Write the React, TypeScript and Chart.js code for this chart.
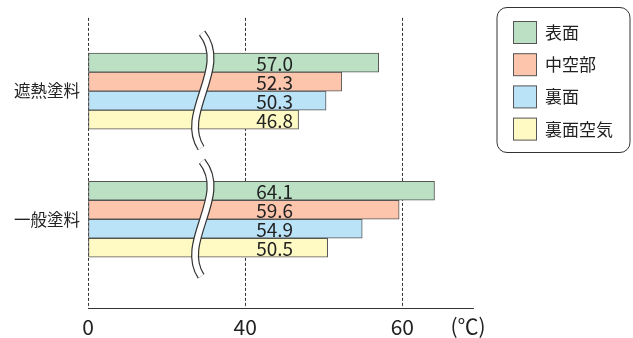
import React, { useEffect, useRef } from 'react';
import { Chart, registerables } from 'chart.js';

Chart.register(...registerables);

// ---- data ----
const categories = ['遮熱塗料', '一般塗料'];
const seriesNames = ['表面', '中空部', '裏面', '裏面空気'];
const surface = [57.0, 64.1];
const hollow = [52.3, 59.6];
const back = [50.3, 54.9];
const backAir = [46.8, 50.5];
const xTickValues = [0, 40, 60];
const xMaxValue = 69;
const unitLabel = '(℃)';

// ---- style ----
const colors = ['#bbe0c4', '#fcc5ac', '#bbe3f8', '#fffac3'];
const FONT = '"Noto Sans CJK JP", "Noto Sans", sans-serif';
const TEXT = '#222';
const LINE = '#333';

// broken axis: 0..40 is drawn at half scale, 40.. at full scale
const toAxis = (v: number) => (v >= 40 ? v - 20 : v / 2);
const fromAxis = (a: number) => (a >= 20 ? a + 20 : a * 2);
const BREAK_AXIS_POS = 14.9;

const seriesValues = [surface, hollow, back, backAir];

const overlayPlugin = {
  id: 'overlay',
  afterDatasetsDraw(chart: any) {
    const ctx = chart.ctx;
    const xs = chart.scales.x;
    const ys = chart.scales.y;
    // break marks
    const bx = xs.getPixelForValue(BREAK_AXIS_POS);
    categories.forEach((_, i) => {
      const cy = ys.getPixelForValue(i);
      const top = cy - 58;
      const bot = cy + 57;
      const path = () => {
        ctx.beginPath();
        ctx.moveTo(bx - 3, top);
        ctx.bezierCurveTo(bx + 25, top + 35, bx - 27, bot - 35, bx - 4, bot);
      };
      ctx.save();
      ctx.lineCap = 'butt';
      path();
      ctx.strokeStyle = LINE;
      ctx.lineWidth = 8;
      ctx.stroke();
      path();
      ctx.strokeStyle = '#ffffff';
      ctx.lineWidth = 5.6;
      ctx.stroke();
      ctx.restore();
    });
    // value labels
    const lx = xs.getPixelForValue(toAxis(40)) + 11;
    ctx.save();
    ctx.font = `19px ${FONT}`;
    ctx.fillStyle = TEXT;
    ctx.textAlign = 'left';
    ctx.textBaseline = 'middle';
    chart.data.datasets.forEach((ds: any, di: number) => {
      const meta = chart.getDatasetMeta(di);
      meta.data.forEach((el: any, i: number) => {
        ctx.fillText(seriesValues[di][i].toFixed(1), lx, el.y + 1);
      });
    });
    ctx.restore();
  },
  afterDraw(chart: any) {
    const ctx = chart.ctx;
    const ca = chart.chartArea;
    // unit
    ctx.save();
    ctx.font = `21px ${FONT}`;
    ctx.fillStyle = TEXT;
    ctx.textAlign = 'center';
    ctx.textBaseline = 'middle';
    ctx.fillText(unitLabel, ca.right - 5, 326);
    ctx.restore();
    // legend
    const lx = 497, ly = 7.5, lw = 133, lh = 145, r = 10;
    ctx.save();
    ctx.beginPath();
    ctx.moveTo(lx + r, ly);
    ctx.lineTo(lx + lw - r, ly);
    ctx.arcTo(lx + lw, ly, lx + lw, ly + r, r);
    ctx.lineTo(lx + lw, ly + lh - r);
    ctx.arcTo(lx + lw, ly + lh, lx + lw - r, ly + lh, r);
    ctx.lineTo(lx + r, ly + lh);
    ctx.arcTo(lx, ly + lh, lx, ly + lh - r, r);
    ctx.lineTo(lx, ly + r);
    ctx.arcTo(lx, ly, lx + r, ly, r);
    ctx.closePath();
    ctx.fillStyle = '#fff';
    ctx.fill();
    ctx.strokeStyle = LINE;
    ctx.lineWidth = 1;
    ctx.stroke();
    ctx.font = `17px ${FONT}`;
    ctx.textAlign = 'left';
    ctx.textBaseline = 'middle';
    chart.data.datasets.forEach((ds: any, i: number) => {
      const sy = 21 + i * 32.2;
      ctx.fillStyle = ds.backgroundColor;
      ctx.fillRect(513.5, sy + 0.5, 23, 22);
      ctx.strokeStyle = '#555';
      ctx.strokeRect(513.5, sy + 0.5, 23, 22);
      ctx.fillStyle = TEXT;
      ctx.fillText(ds.label, 545, sy + 11.5);
    });
    ctx.restore();
  },
};

export default function App() {
  const ref = useRef<HTMLCanvasElement>(null);
  useEffect(() => {
    if (!ref.current) return;
    const chart = new Chart(ref.current, {
      type: 'bar',
      data: {
        datasets: seriesNames.map((name, si) => ({
          label: name,
          data: seriesValues[si].map((v, i) => ({ x: toAxis(v), y: i })),
          backgroundColor: colors[si],
          borderColor: '#555',
          borderWidth: 1,
          borderSkipped: false,
          barThickness: 19,
        })),
      },
      options: {
        indexAxis: 'y',
        responsive: false,
        animation: false,
        devicePixelRatio: 1,
        layout: { padding: { top: 7, right: 160, left: 0, bottom: 0 } },
        plugins: { legend: { display: false }, tooltip: { enabled: false } },
        scales: {
          x: {
            type: 'linear',
            min: 0,
            max: toAxis(xMaxValue),
            offset: false,
            afterBuildTicks: (s: any) => {
              s.ticks = xTickValues.map((v) => ({ value: toAxis(v) }));
            },
            afterFit: (s: any) => {
              s.height = 30;
            },
            grid: {
              color: LINE,
              lineWidth: 1,
              drawTicks: false,
            },
            border: { display: true, color: LINE, dash: [3, 2], width: 1 },
            ticks: {
              padding: 6,
              color: TEXT,
              font: { family: FONT, size: 21 },
              callback: (v: any) => String(fromAxis(Number(v))),
            },
          },
          y: {
            type: 'linear',
            reverse: true,
            min: -0.571,
            max: 1.692,
            offset: false,
            afterBuildTicks: (s: any) => {
              s.ticks = categories.map((_, i) => ({ value: i }));
            },
            afterFit: (s: any) => {
              s.width = 88;
            },
            grid: { display: false, drawTicks: false, offset: false },
            border: { display: false },
            ticks: {
              padding: 8,
              color: TEXT,
              font: { family: FONT, size: 16.5 },
              callback: (v: any) => categories[Number(v)] ?? '',
            },
          },
        },
      },
      plugins: [overlayPlugin],
    });
    // dashed vertical grid (scriptable dash on grid lines)
    (chart.options.scales as any).x.grid.borderDash = [3, 2];
    (chart.options.scales as any).x.grid.dash = [3, 2];
    chart.update();
    return () => chart.destroy();
  }, []);
  return (
    <div style={{ position: 'fixed', left: 0, top: 0, width: 633, height: 338, background: '#fff' }}>
      <canvas ref={ref} width={633} height={338} style={{ width: 633, height: 338 }} />
    </div>
  );
}
